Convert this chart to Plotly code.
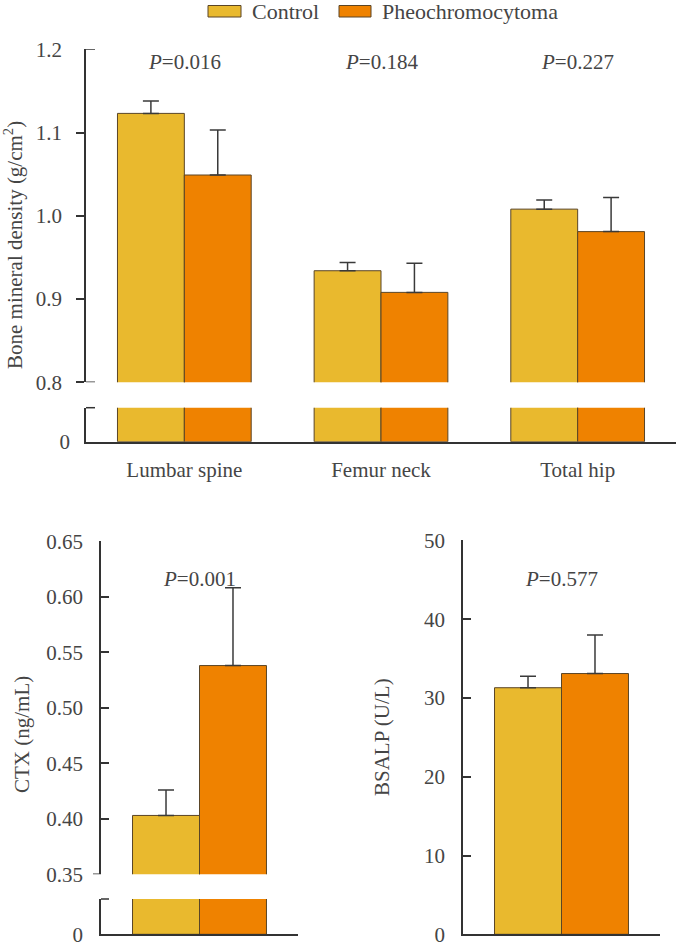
import plotly.graph_objects as go

W, H = 676, 943

# ---------------- data ----------------
groups = ["Control", "Pheochromocytoma"]
group_colors = ["#E9B92E", "#EF8200"]

bmd_sites = ["Lumbar spine", "Femur neck", "Total hip"]
bmd_control = [1.123, 0.934, 1.008]
bmd_control_sd = [0.015, 0.010, 0.011]
bmd_pheo = [1.049, 0.908, 0.981]
bmd_pheo_sd = [0.054, 0.035, 0.041]
bmd_p = ["0.016", "0.184", "0.227"]
bmd_ticks = [0.8, 0.9, 1.0, 1.1]
bmd_top_tick = [1.2]

ctx_values = [0.403, 0.538]
ctx_sd = [0.023, 0.070]
ctx_p = "0.001"
ctx_ticks = [0.35, 0.40, 0.45, 0.50, 0.55, 0.60, 0.65]

bsalp_values = [31.3, 33.1]
bsalp_sd = [1.45, 4.9]
bsalp_p = "0.577"
bsalp_ticks = [0, 10, 20, 30, 40, 50]

# ---------------- helpers (layout only) ----------------
def fx(px):
    return px / W

def fy(py):
    return 1 - py / H

FONT = "Liberation Serif, Times New Roman, serif"
TXT = "#454545"
LINE = "#333333"
OUTLINE = "#5a4526"
ERR = "#3a3a3a"

bmd_vals = [bmd_control, bmd_pheo]
bmd_sds = [bmd_control_sd, bmd_pheo_sd]

fig = go.Figure()

for i, g in enumerate(groups):
    bar_marker = dict(color=group_colors[i], line=dict(color=OUTLINE, width=1))
    # top panel, upper segment
    fig.add_trace(go.Bar(
        x=bmd_sites, y=bmd_vals[i], name=g, offsetgroup=str(i), marker=bar_marker,
        error_y=dict(type="data", array=bmd_sds[i], arrayminus=[0] * len(bmd_sites),
                     symmetric=False, color=ERR, thickness=1.5, width=8),
        xaxis="x", yaxis="y", showlegend=False))
    # top panel, lower segment (below the axis break)
    fig.add_trace(go.Bar(
        x=bmd_sites, y=bmd_vals[i], name=g, offsetgroup=str(i), marker=bar_marker,
        xaxis="x2", yaxis="y2", showlegend=False, hoverinfo="skip"))
    # CTX upper
    fig.add_trace(go.Bar(
        x=[0], y=[ctx_values[i]], name=g, offsetgroup=str(i), marker=bar_marker,
        error_y=dict(type="data", array=[ctx_sd[i]], arrayminus=[0],
                     symmetric=False, color=ERR, thickness=1.5, width=8),
        xaxis="x3", yaxis="y3", showlegend=False))
    # CTX lower
    fig.add_trace(go.Bar(
        x=[0], y=[ctx_values[i]], name=g, offsetgroup=str(i), marker=bar_marker,
        xaxis="x4", yaxis="y4", showlegend=False, hoverinfo="skip"))
    # BSALP
    fig.add_trace(go.Bar(
        x=[0], y=[bsalp_values[i]], name=g, offsetgroup=str(i), marker=bar_marker,
        error_y=dict(type="data", array=[bsalp_sd[i]], arrayminus=[0],
                     symmetric=False, color=ERR, thickness=1.5, width=8),
        xaxis="x5", yaxis="y5", showlegend=False))

# empty trace so the overlay axis carrying the "1.2" label is drawn
fig.add_trace(go.Scatter(x=[], y=[], xaxis="x", yaxis="y6", showlegend=False,
                         hoverinfo="skip"))

tickfont = dict(family=FONT, size=21, color=TXT)
axis_common = dict(showgrid=False, zeroline=False, linecolor=LINE, linewidth=1.5,
                   tickcolor=LINE, tickwidth=1.5, ticklen=8, tickfont=tickfont,
                   automargin=False)

top_dom = [fx(86), 1.0]
ctx_dom = [fx(101), fx(298)]
bs_dom = [fx(463), fx(660)]

fig.update_layout(
    template="none",
    width=W, height=H, margin=dict(l=0, r=0, t=0, b=0, pad=0),
    paper_bgcolor="white", plot_bgcolor="rgba(0,0,0,0)",
    barmode="group", bargap=0.32, bargroupgap=0,
    font=dict(family=FONT, size=20, color=TXT),
    # ---- top panel ----
    xaxis=dict(domain=top_dom, anchor="y", type="category", range=[-0.5, 2.5],
               visible=False, automargin=False),
    yaxis=dict(domain=[fy(382.3), fy(49.3)], anchor="x", range=[0.8, 1.2],
               tickvals=bmd_ticks, ticktext=["%.1f" % v for v in bmd_ticks],
               ticks="outside", showline=True, ticklabelstandoff=10, **axis_common),
    yaxis6=dict(domain=[fy(382.3), fy(49.3)], anchor="x", overlaying="y", range=[0.8, 1.2],
                tickvals=bmd_top_tick, ticktext=["%.1f" % v for v in bmd_top_tick],
                ticks="", showline=False, showgrid=False, zeroline=False,
                tickfont=tickfont, ticklabelstandoff=23, automargin=False, side="left"),
    xaxis2=dict(domain=top_dom, anchor="y2", type="category", range=[-0.5, 2.5],
                showline=True, ticks="", ticklabelstandoff=8, **axis_common),
    yaxis2=dict(domain=[fy(441.7), fy(407.7)], anchor="x2", range=[0, 0.5],
                tickvals=[0], ticktext=["0"], ticks="", showline=True, ticklabelstandoff=10,
                **axis_common),
    # ---- CTX ----
    xaxis3=dict(domain=ctx_dom, anchor="y3", range=[-0.5, 0.5], visible=False,
                automargin=False),
    yaxis3=dict(domain=[fy(874.3), fy(541.2)], anchor="x3", range=[0.35, 0.65],
                tickvals=ctx_ticks, ticktext=["%.2f" % v for v in ctx_ticks],
                ticks="inside", showline=True, ticklabelstandoff=12, **axis_common),
    xaxis4=dict(domain=ctx_dom, anchor="y4", range=[-0.5, 0.5], showline=True,
                showticklabels=False, ticks="", **axis_common),
    yaxis4=dict(domain=[fy(934.3), fy(899)], anchor="x4", range=[0, 0.05],
                tickvals=[0], ticktext=["0"], ticks="", showline=True, ticklabelstandoff=12,
                ticklabeloverflow="allow", **axis_common),
    # ---- BSALP ----
    xaxis5=dict(domain=bs_dom, anchor="y5", range=[-0.5, 0.5], showline=True,
                showticklabels=False, ticks="", **axis_common),
    yaxis5=dict(domain=[fy(934.3), fy(540.4)], anchor="x5", range=[0, 50],
                tickvals=bsalp_ticks, ticktext=[str(v) for v in bsalp_ticks],
                ticks="inside", showline=True, ticklabelstandoff=12,
                ticklabeloverflow="allow", **axis_common),
)

# ---- axis-break marks ----
shapes = [
    dict(type="line", xref="paper", yref="y", x0=fx(86), x1=fx(95), y0=1.2, y1=1.2),
    dict(type="line", xref="paper", yref="y", x0=fx(86), x1=fx(95), y0=0.8, y1=0.8),
    dict(type="line", xref="paper", yref="y2 domain", x0=fx(86), x1=fx(95), y0=1, y1=1),
    dict(type="line", xref="paper", yref="y3", x0=fx(93), x1=fx(101), y0=0.35, y1=0.35),
    dict(type="line", xref="paper", yref="y4 domain", x0=fx(101), x1=fx(109), y0=1, y1=1),
]
for s in shapes:
    s["line"] = dict(color=LINE, width=1.5)

# ---- custom legend swatches ----
legend_px = [(208, 241), (339, 371)]
for (x0, x1), c in zip(legend_px, group_colors):
    shapes.append(dict(type="rect", xref="paper", yref="paper",
                       x0=fx(x0), x1=fx(x1), y0=fy(17), y1=fy(5.5),
                       fillcolor=c, line=dict(color=OUTLINE, width=1)))
fig.update_layout(shapes=shapes)

ann = []
legend_text_px = [250, 380]
for g, xp in zip(groups, legend_text_px):
    ann.append(dict(text=g, xref="paper", yref="paper", x=fx(xp), y=fy(11.5),
                    xanchor="left", yanchor="middle", showarrow=False,
                    font=dict(family=FONT, size=22, color=TXT)))

# P values
for site, p in zip(bmd_sites, bmd_p):
    ann.append(dict(text="<i>P</i>=" + p, xref="x2", yref="paper", x=site, y=fy(62),
                    xanchor="center", yanchor="middle", showarrow=False,
                    font=dict(family=FONT, size=21, color=TXT)))
ann.append(dict(text="<i>P</i>=" + ctx_p, xref="x3", yref="paper", x=0, y=fy(579),
                xanchor="center", yanchor="middle", showarrow=False,
                font=dict(family=FONT, size=21, color=TXT)))
ann.append(dict(text="<i>P</i>=" + bsalp_p, xref="x5", yref="paper", x=0, y=fy(579),
                xanchor="center", yanchor="middle", showarrow=False,
                font=dict(family=FONT, size=21, color=TXT)))

# axis titles
titles = [
    ("Bone mineral density (g/cm<sup>2</sup>)", 13, 245),
    ("CTX (ng/mL)", 22, 735),
    ("BSALP (U/L)", 382, 737),
]
for t, xp, yp in titles:
    ann.append(dict(text=t, xref="paper", yref="paper", x=fx(xp), y=fy(yp),
                    xanchor="center", yanchor="middle", textangle=-90, showarrow=False,
                    font=dict(family=FONT, size=21, color=TXT)))

fig.update_layout(annotations=ann)

fig.write_html("out.html", config={"displayModeBar": False},
               post_script="document.body.style.margin='0';document.body.style.overflow='hidden';")
